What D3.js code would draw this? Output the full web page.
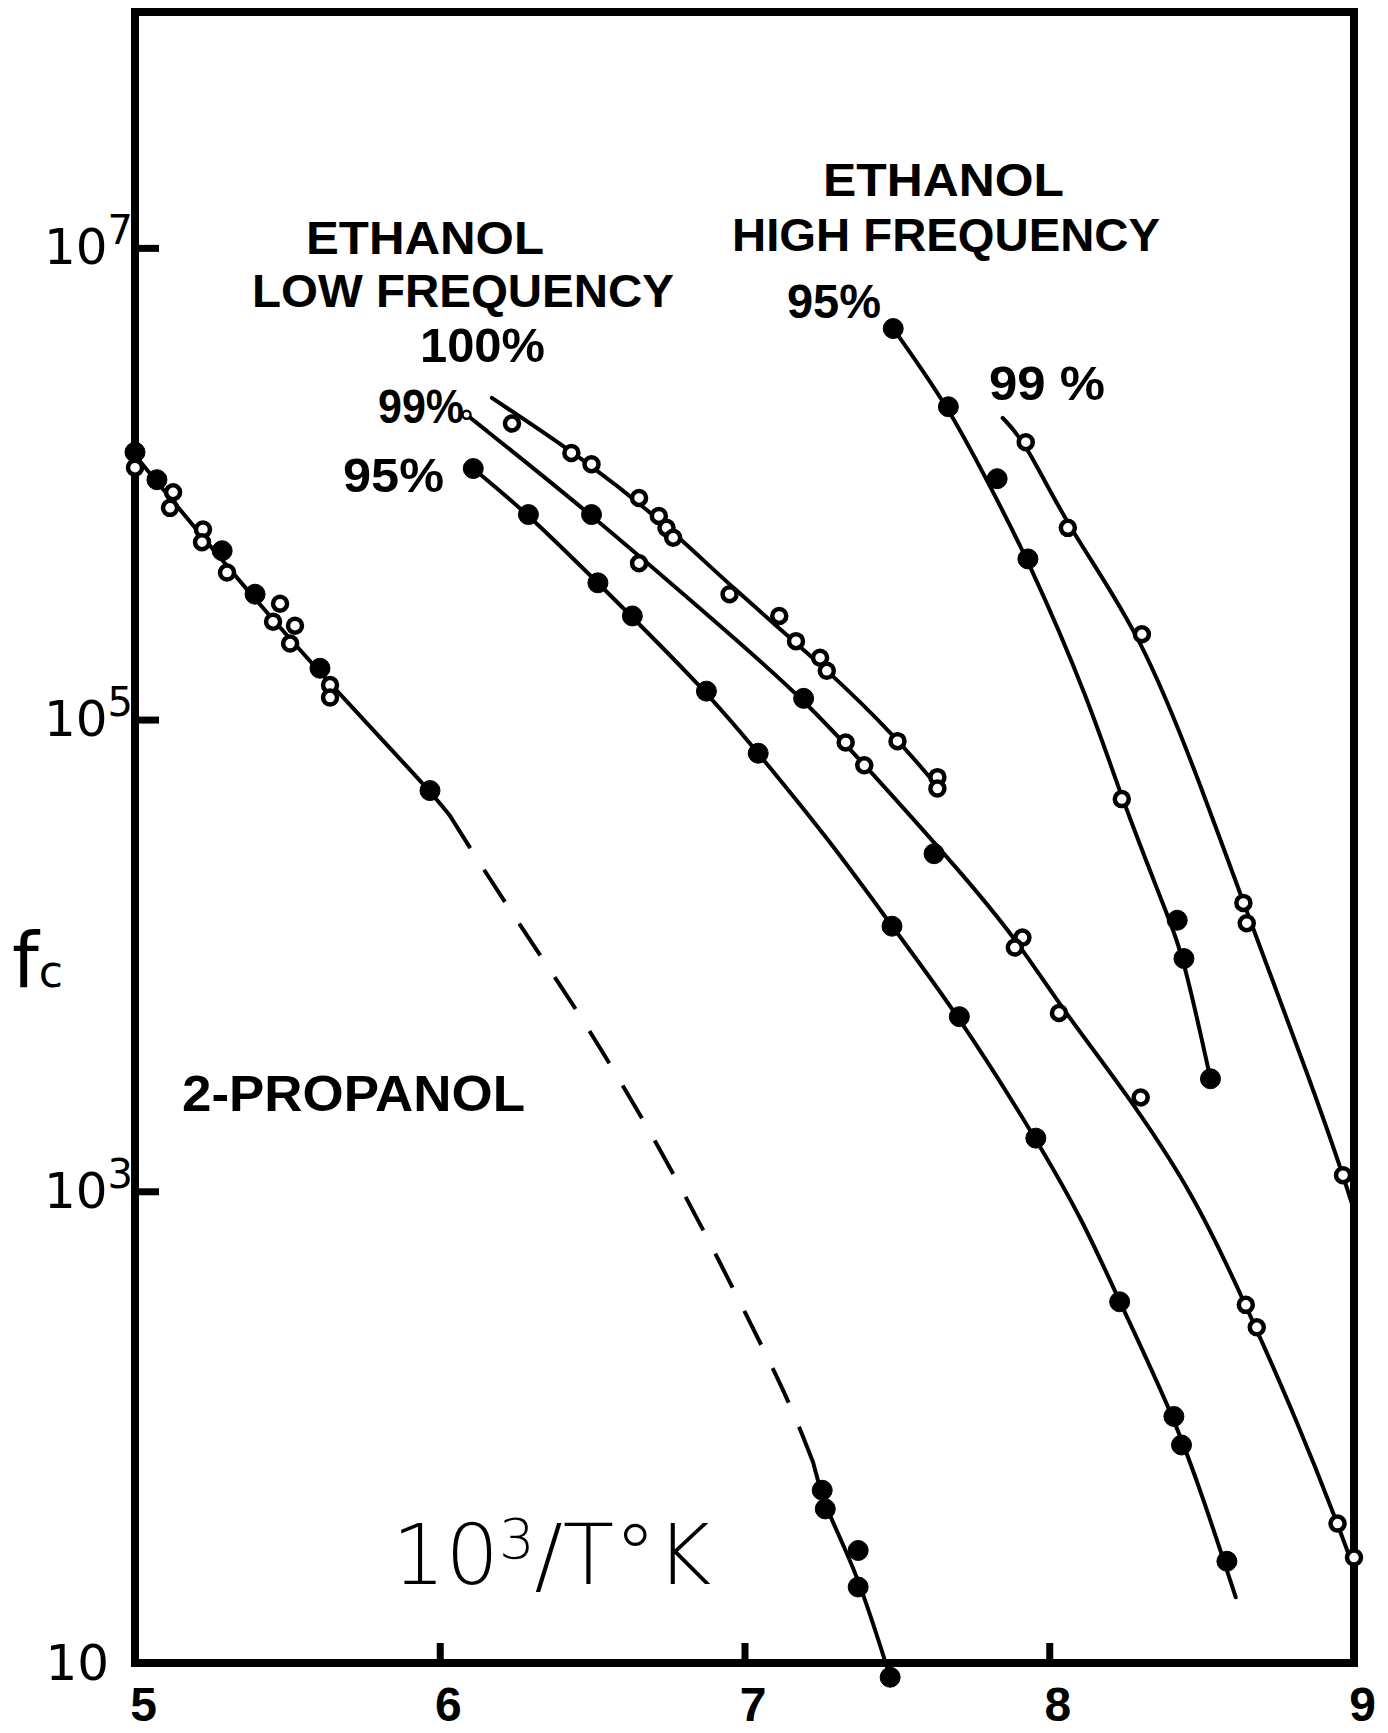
<!DOCTYPE html>
<html>
<head>
<meta charset="utf-8">
<script src="https://cdn.jsdelivr.net/npm/d3@7"></script>
<style>
  body { margin: 0; background: #fff; }
  svg { display: block; }
</style>
</head>
<body>
<div id="chart"></div>
<script>
// values: x = 10^3/T (K), f = critical frequency fc
// marker kind: "f" filled, "o" open, "s" small open

const xTicks = [5, 6, 7, 8, 9];
const yTicks = [10, 1e3, 1e5, 1e7];

// 2-propanol
const propanol = [
  {x: 5.000, f: 1.36e6, m: "f"}, {x: 5.000, f: 1.17e6, m: "o"}, {x: 5.072, f: 1.04e6, m: "f"},
  {x: 5.125, f: 9.2e5, m: "o"}, {x: 5.115, f: 7.9e5, m: "o"}, {x: 5.223, f: 6.4e5, m: "o"},
  {x: 5.220, f: 5.65e5, m: "o"}, {x: 5.286, f: 5.2e5, m: "f"}, {x: 5.302, f: 4.2e5, m: "o"},
  {x: 5.394, f: 3.4e5, m: "f"}, {x: 5.476, f: 3.1e5, m: "o"}, {x: 5.453, f: 2.6e5, m: "o"},
  {x: 5.525, f: 2.5e5, m: "o"}, {x: 5.509, f: 2.1e5, m: "o"}, {x: 5.607, f: 1.65e5, m: "f"},
  {x: 5.640, f: 1.40e5, m: "o"}, {x: 5.640, f: 1.24e5, m: "o"}, {x: 5.968, f: 5.0e4, m: "f"},
  {x: 7.255, f: 54, m: "f"}, {x: 7.265, f: 45, m: "f"}, {x: 7.373, f: 30, m: "f"},
  {x: 7.373, f: 21, m: "f"}, {x: 7.478, f: 8.7, m: "f"}
];
const propanolFit = [[5.000, 1.32e6], [5.377, 3.4e5], [5.650, 1.37e5], [5.968, 5.0e4], [6.034, 3.9e4]];
const propanolDash = [[6.034, 3.9e4], [6.208, 1.71e4], [6.443, 6.1e3], [6.607, 2.73e3], [6.733, 1.43e3],
  [6.879, 635], [7.024, 269], [7.150, 126], [7.225, 71]];
const propanolLow = [[7.225, 71], [7.265, 45], [7.366, 25], [7.478, 8.7]];

// ethanol, low frequency
const lf100 = [
  {x: 6.237, f: 1.80e6, m: "o"}, {x: 6.432, f: 1.35e6, m: "o"}, {x: 6.498, f: 1.21e6, m: "o"},
  {x: 6.654, f: 8.7e5, m: "o"}, {x: 6.719, f: 7.3e5, m: "o"}, {x: 6.744, f: 6.5e5, m: "o"},
  {x: 6.766, f: 5.9e5, m: "o"}, {x: 6.951, f: 3.4e5, m: "o"}, {x: 7.114, f: 2.75e5, m: "o"},
  {x: 7.169, f: 2.15e5, m: "o"}, {x: 7.248, f: 1.83e5, m: "o"}, {x: 7.270, f: 1.61e5, m: "o"},
  {x: 7.502, f: 8.1e4, m: "o"}, {x: 7.633, f: 5.7e4, m: "o"}, {x: 7.633, f: 5.1e4, m: "o"}
];
const lf100Fit = [[6.171, 2.31e6], [6.498, 1.21e6], [6.766, 6.3e5], [6.951, 3.7e5], [7.270, 1.64e5],
  [7.502, 8.3e4], [7.633, 5.2e4]];

const lf99 = [
  {x: 6.088, f: 1.96e6, m: "s"}, {x: 6.498, f: 7.4e5, m: "f"}, {x: 6.654, f: 4.6e5, m: "o"},
  {x: 7.194, f: 1.23e5, m: "f"}, {x: 7.332, f: 8.0e4, m: "o"}, {x: 7.393, f: 6.4e4, m: "o"},
  {x: 7.622, f: 2.7e4, m: "f"}, {x: 7.912, f: 1.19e4, m: "o"}, {x: 7.887, f: 1.08e4, m: "o"},
  {x: 8.032, f: 5.7e3, m: "o"}, {x: 8.300, f: 2.5e3, m: "o"}, {x: 8.645, f: 330, m: "o"},
  {x: 8.681, f: 265, m: "o"}, {x: 8.946, f: 39, m: "o"}, {x: 9.000, f: 28, m: "o"}
];
const lf99Fit = [[6.088, 1.96e6], [6.498, 7.4e5], [6.915, 2.53e5], [7.194, 1.23e5], [7.459, 5.2e4],
  [7.713, 2.23e4], [7.901, 1.13e4], [8.039, 6.0e3], [8.242, 2.73e3], [8.474, 980], [8.645, 330],
  [8.819, 102], [8.946, 39], [9.000, 25]];

const lf95 = [
  {x: 6.110, f: 1.16e6, m: "f"}, {x: 6.291, f: 7.4e5, m: "f"}, {x: 6.519, f: 3.8e5, m: "f"},
  {x: 6.632, f: 2.75e5, m: "f"}, {x: 6.875, f: 1.32e5, m: "f"}, {x: 7.045, f: 7.2e4, m: "f"},
  {x: 7.484, f: 1.33e4, m: "f"}, {x: 7.705, f: 5.5e3, m: "f"}, {x: 7.956, f: 1.68e3, m: "f"},
  {x: 8.231, f: 340, m: "f"}, {x: 8.409, f: 111, m: "f"}, {x: 8.434, f: 84, m: "f"},
  {x: 8.583, f: 27, m: "f"}
];
const lf95Fit = [[6.110, 1.16e6], [6.291, 7.4e5], [6.519, 3.8e5], [6.875, 1.32e5], [7.045, 7.2e4],
  [7.277, 3.1e4], [7.484, 1.33e4], [7.705, 5.5e3], [7.956, 1.68e3], [8.111, 750], [8.231, 340],
  [8.409, 111], [8.510, 48], [8.612, 19]];

// ethanol, high frequency
const hf95 = [
  {x: 7.488, f: 4.55e6, m: "f"}, {x: 7.669, f: 2.12e6, m: "f"}, {x: 7.829, f: 1.05e6, m: "f"},
  {x: 7.930, f: 4.8e5, m: "f"}, {x: 8.238, f: 4.6e4, m: "o"}, {x: 8.420, f: 1.41e4, m: "f"},
  {x: 8.442, f: 9.7e3, m: "f"}, {x: 8.529, f: 3.0e3, m: "f"}
];
const hf95Fit = [[7.488, 4.55e6], [7.669, 2.12e6], [7.796, 1.03e6], [7.930, 4.8e5], [8.130, 1.21e5],
  [8.238, 4.6e4], [8.391, 1.45e4], [8.442, 9.7e3], [8.529, 3.0e3]];

const hf99 = [
  {x: 7.923, f: 1.50e6, m: "o"}, {x: 8.061, f: 6.5e5, m: "o"}, {x: 8.304, f: 2.3e5, m: "o"},
  {x: 8.637, f: 1.67e4, m: "o"}, {x: 8.648, f: 1.37e4, m: "o"}, {x: 8.964, f: 1.17e3, m: "o"}
];
const hf99Fit = [[7.847, 1.90e6], [7.923, 1.50e6], [8.061, 6.5e5], [8.304, 2.3e5], [8.510, 4.75e4],
  [8.637, 1.67e4], [8.866, 2.73e3], [8.964, 1.17e3], [9.000, 830]];

const W = 1388, H = 1733;
const LETTER = '"Liberation Sans", Arial, sans-serif';

const x = d3.scaleLinear().domain([5, 9]).range([135, 1354]);
const y = d3.scaleLog().domain([10, 1e8]).range([1663, 12]);

const svg = d3.select("#chart").append("svg")
  .attr("width", W).attr("height", H)
  .style("background", "#fff");

// frame
svg.append("rect")
  .attr("x", x(5)).attr("y", y(1e8))
  .attr("width", x(9) - x(5)).attr("height", y(10) - y(1e8))
  .attr("fill", "none").attr("stroke", "#000").attr("stroke-width", 8);

// y axis, ticks pointing inward
const yAxis = svg.append("g").attr("transform", `translate(${x(5)},0)`)
  .call(d3.axisLeft(y).tickValues(yTicks).tickSizeInner(-24).tickSizeOuter(0).tickPadding(2)
    .tickFormat(() => "10"));
yAxis.select(".domain").remove();
yAxis.selectAll(".tick line").attr("stroke", "#000").attr("stroke-width", 7);
yAxis.selectAll(".tick text")
  .attr("font-family", '"DejaVu Sans", sans-serif').attr("font-size", 50).attr("fill", "#000")
  .each(function (d) {
    const e = Math.round(Math.log10(d));
    if (e > 1) {
      d3.select(this).append("tspan").attr("dy", -20).attr("font-size", 40).text(e);
    } else {
      d3.select(this).attr("x", -26);
    }
  });

// x axis
const xAxis = svg.append("g").attr("transform", `translate(0,${y(10)})`)
  .call(d3.axisBottom(x).tickValues(xTicks).tickSizeInner(-20).tickSizeOuter(0).tickPadding(24)
    .tickFormat(d3.format("d")));
xAxis.select(".domain").remove();
xAxis.selectAll(".tick line").attr("stroke", "#000").attr("stroke-width", 7);
xAxis.selectAll(".tick text")
  .attr("font-family", LETTER).attr("font-weight", "bold").attr("font-size", 48).attr("fill", "#000")
  .attr("dx", 8);

// fitted curves
const line = d3.line()
  .x(d => x(d[0]))
  .y(d => y(d[1]))
  .curve(d3.curveBasis);

const fits = [propanolFit, propanolLow, lf100Fit, lf99Fit, lf95Fit, hf95Fit, hf99Fit];
svg.append("g").selectAll("path").data(fits).join("path")
  .attr("d", line)
  .attr("fill", "none").attr("stroke", "#000").attr("stroke-width", 4)
  .attr("stroke-linecap", "round");

svg.append("path").datum(propanolDash)
  .attr("d", line)
  .attr("fill", "none").attr("stroke", "#000").attr("stroke-width", 4)
  .attr("stroke-dasharray", "38,26");

// measured points
const points = [].concat(propanol, lf100, lf99, lf95, hf95, hf99);
svg.append("g").selectAll("circle").data(points).join("circle")
  .attr("cx", d => x(d.x))
  .attr("cy", d => y(d.f))
  .attr("r", d => d.m === "f" ? 10 : d.m === "s" ? 4 : 7)
  .attr("fill", d => d.m === "f" ? "#000" : "#fff")
  .attr("stroke", "#000")
  .attr("stroke-width", d => d.m === "f" ? 1 : d.m === "s" ? 2.4 : 4.5);

// hand lettered labels: text, left x, baseline y, width, size
const labels = [
  ["ETHANOL", 306, 254, 238, 46],
  ["LOW FREQUENCY", 252, 307, 422, 46],
  ["100%", 420, 362, 125, 48],
  ["99%", 378, 423, 86, 48],
  ["95%", 343, 492, 101, 48],
  ["ETHANOL", 823, 196, 241, 46],
  ["HIGH FREQUENCY", 732, 251, 428, 46],
  ["95%", 787, 318, 94, 48],
  ["99 %", 989, 400, 116, 48],
  ["2-PROPANOL", 182, 1111, 343, 50]
];
svg.append("g").selectAll("text").data(labels).join("text")
  .attr("x", d => d[1]).attr("y", d => d[2])
  .attr("textLength", d => d[3]).attr("lengthAdjust", "spacingAndGlyphs")
  .attr("font-family", LETTER).attr("font-weight", "bold").attr("font-size", d => d[4])
  .attr("fill", "#000")
  .text(d => d[0]);

// x axis title
const xt = svg.append("text")
  .attr("x", 392).attr("y", 1584)
  .attr("font-family", '"DejaVu Sans", sans-serif').attr("font-weight", 200)
  .attr("font-size", 84).attr("fill", "#000");
xt.append("tspan").text("10");
xt.append("tspan").attr("font-size", 56).attr("dy", -26).text("3");
xt.append("tspan").attr("dy", 26).text("/T°K");

// y axis title
const yt = svg.append("text")
  .attr("x", 12).attr("y", 987)
  .attr("font-family", '"DejaVu Sans", sans-serif')
  .attr("font-size", 76).attr("fill", "#000");
yt.append("tspan").text("f");
yt.append("tspan").attr("font-size", 44).text("c");
</script>
</body>
</html>
